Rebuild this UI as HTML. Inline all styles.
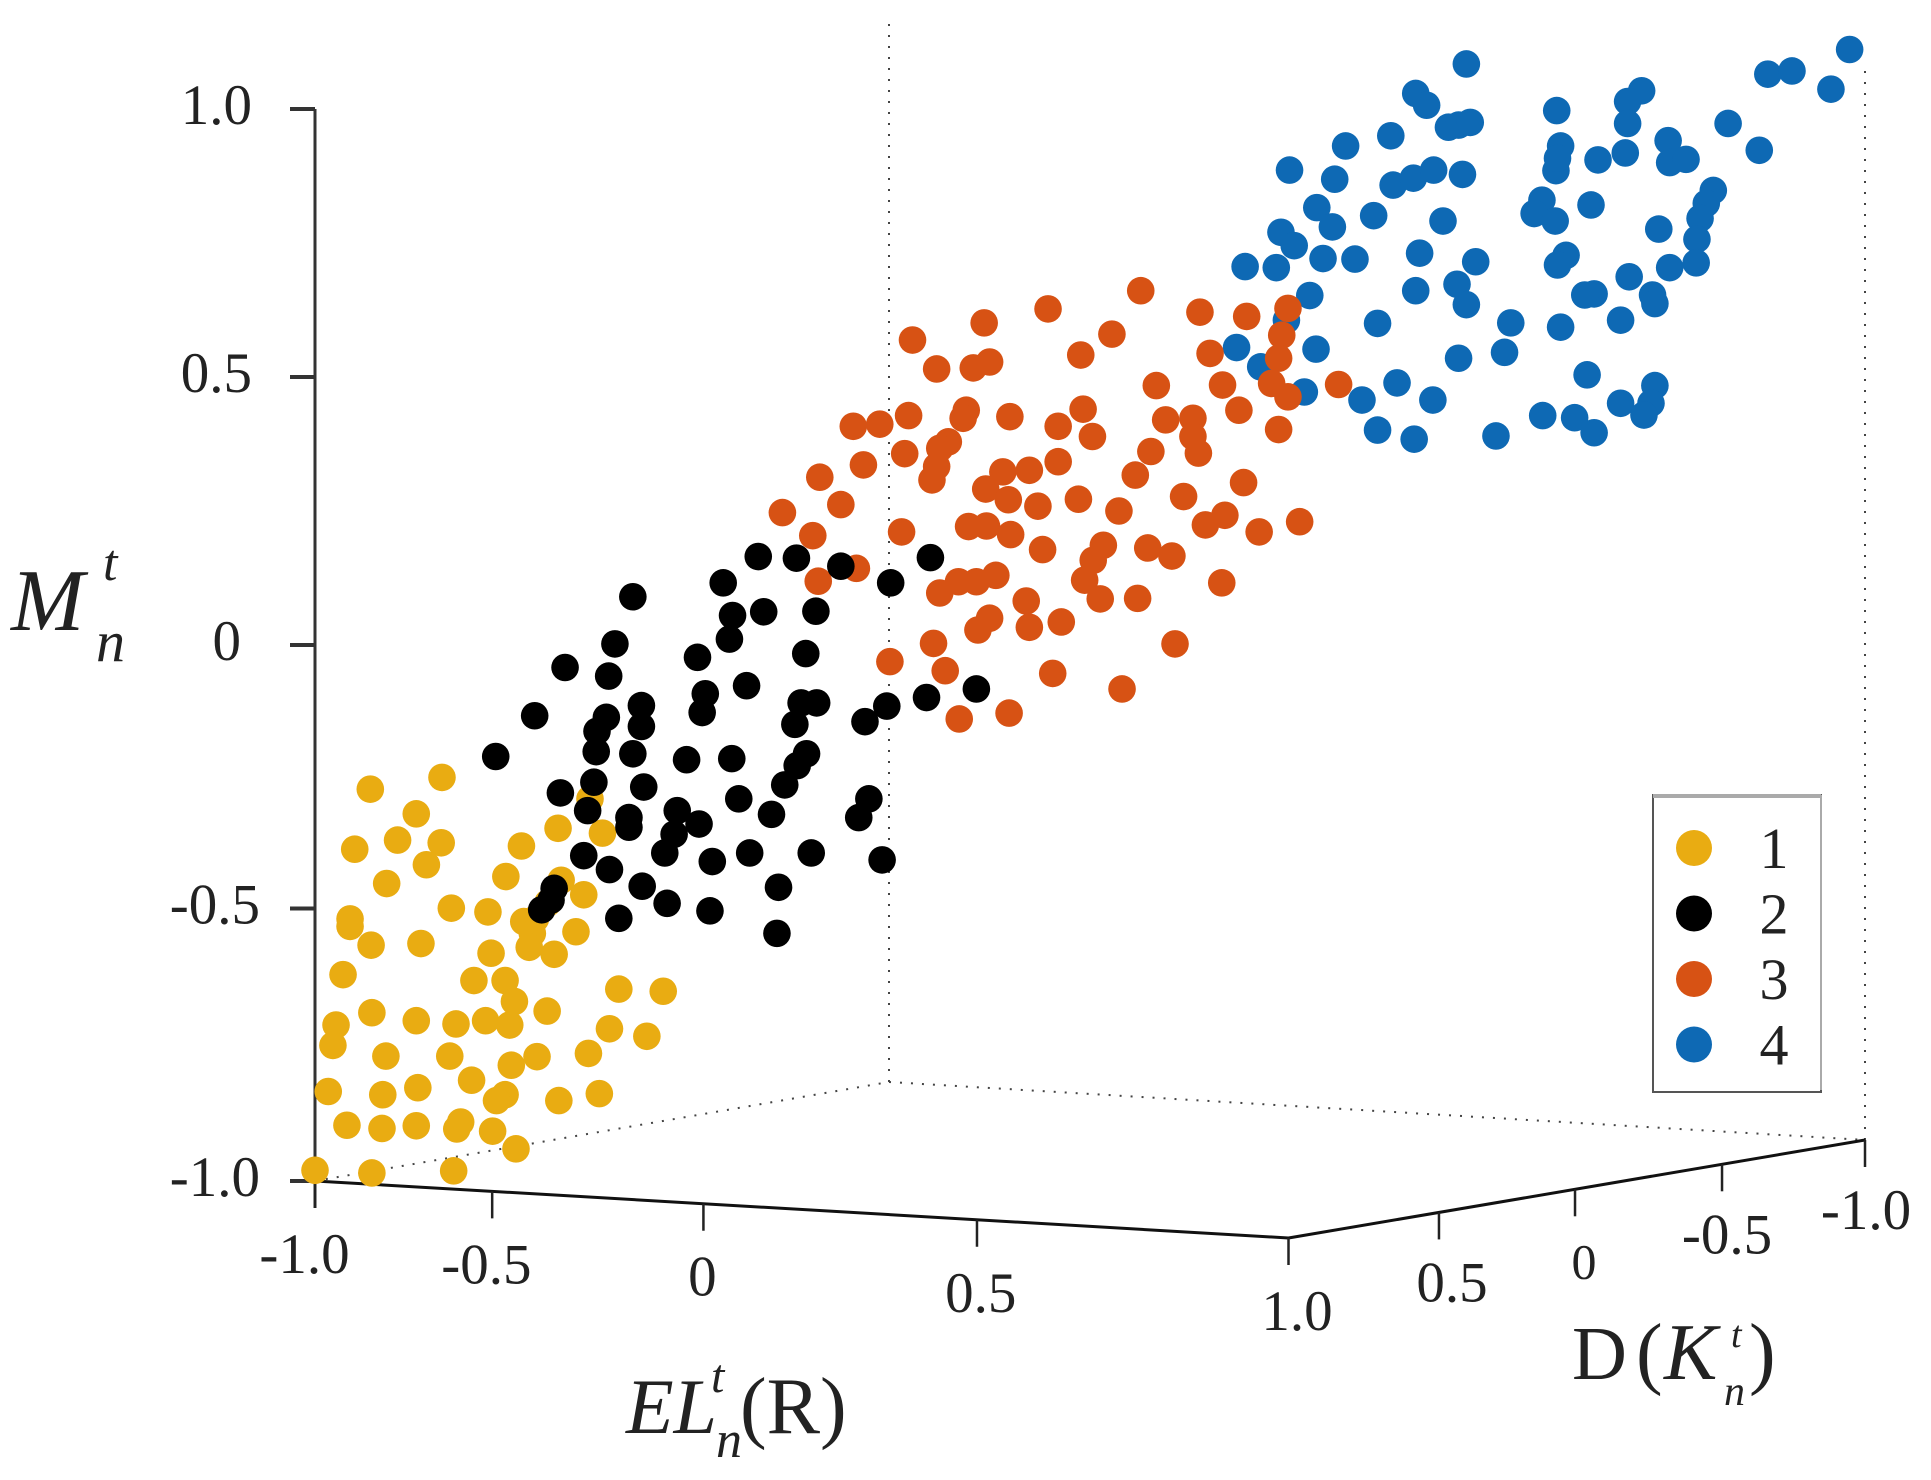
<!DOCTYPE html>
<html lang="en">
<head>
<meta charset="utf-8">
<title>3D cluster scatter plot</title>
<style>
html,body{margin:0;padding:0;background:#fff;}
svg{display:block;}
text{font-family:"Liberation Serif",serif;fill:#222;}
</style>
</head>
<body>
<svg id="chart" xmlns="http://www.w3.org/2000/svg" width="1931" height="1480" viewBox="0 0 1931 1480">
  <rect x="0" y="0" width="1931" height="1480" fill="#fff"/>
  <g id="grid"></g>
  <g id="axes"></g>
  <g id="points"></g>
  <g>
    <text x="11" y="630" font-size="88" font-style="italic">M</text>
    <text x="103" y="580" font-size="52" font-style="italic">t</text>
    <text x="96" y="661" font-size="58" font-style="italic">n</text>
  </g>
  <g>
    <text x="626" y="1433" font-size="78" font-style="italic">EL</text>
    <text x="711" y="1392" font-size="48" font-style="italic">t</text>
    <text x="716" y="1457" font-size="52" font-style="italic">n</text>
    <text x="740" y="1433" font-size="80">(R)</text>
  </g>
  <g>
    <text x="1572" y="1379" font-size="76">D</text>
    <text x="1636" y="1379" font-size="80">(</text>
    <text x="1664" y="1379" font-size="80" font-style="italic">K</text>
    <text x="1731" y="1347" font-size="38" font-style="italic">t</text>
    <text x="1724" y="1405" font-size="42" font-style="italic">n</text>
    <text x="1749" y="1379" font-size="80">)</text>
  </g>
  <g id="legend">
    <rect x="1653" y="795" width="168" height="297" fill="#fff" stroke="#555" stroke-width="2"/>
    <line x1="1653" y1="796" x2="1821" y2="796" stroke="#aaa" stroke-width="4"/>
    <line x1="1821" y1="795" x2="1821" y2="1090" stroke="#aaa" stroke-width="2"/>
  </g>
</svg>
<script>
// Projected horizontal position (EL and D combined on the image plane) and M value per cluster.
var cluster1U = [-.929,-.837,-.870,-.949,-.894,-.838,-.857,-.908,-.735,-.688,-.631,-.755,-.684,-.655,-.825,-.778,-.955,-.955,-.732,-.717,-.721,-.725,-.928,-.864,-.774,-.693,-.665,-.964,-.796,-.756,-.744,-.610,-.553,-.927,-.870,-.819,-.781,-.750,-.702,-.973,-.977,-.622,-.574,-.909,-.827,-.715,-.748,-.649,-.799,-.983,-.913,-.868,-.756,-.767,-.687,-.635,-.959,-.914,-.870,-.813,-.818,-.772,-.742,-1.000,-.927,-.822,-.647,-.701];
var cluster1M = [-.269,-.247,-.315,-.381,-.364,-.369,-.410,-.445,-.375,-.342,-.351,-.432,-.439,-.466,-.491,-.498,-.511,-.525,-.516,-.511,-.538,-.564,-.560,-.557,-.575,-.577,-.535,-.615,-.626,-.626,-.665,-.642,-.646,-.686,-.701,-.707,-.701,-.709,-.683,-.709,-.747,-.716,-.730,-.767,-.767,-.768,-.784,-.762,-.812,-.833,-.839,-.826,-.839,-.850,-.850,-.837,-.896,-.902,-.897,-.890,-.903,-.907,-.940,-.980,-.985,-.981,-.287,-.481];

var cluster2U = [-.768,-.639,-.592,-.523,-.465,-.369,-.381,-.397,-.642,-.685,-.578,-.456,-.289,-.302,-.414,-.535,-.650,-.597,-.597,-.507,-.539,-.551,-.655,-.490,-.442,-.363,-.272,-.622,-.580,-.405,-.693,-.709,-.548,-.493,-.610,-.407,-.697,-.431,-.382,-.325,-.261,-.210,-.476,-.592,-.424,-.357,-.464,-.468,-.615,-.370,-.509,-.679,-.623,-.499,-.503,-.446,-.215,-.151,-.266,-.294,-.718,-.581,-.626,-.638,-.376,-.356,-.384,-.581];
var cluster2M = [-.208,-.199,-.203,-.214,-.212,-.203,-.225,-.261,-.256,-.276,-.265,-.287,-.287,-.322,-.316,-.309,-.309,-.322,-.340,-.334,-.353,-.388,-.393,-.404,-.388,-.388,-.401,-.419,-.450,-.452,-.454,-.494,-.482,-.496,-.510,-.538,-.476,.165,.162,.147,.116,.163,.116,.090,.062,.063,.055,.011,.002,-.016,-.023,-.042,-.058,-.091,-.126,-.076,-.098,-.082,-.114,-.143,-.132,-.113,-.135,-.161,-.108,-.108,-.148,-.152];

var cluster3U = [.060,-.059,.136,.196,-.141,-.233,.023,-.017,.149,-.202,-.155,-.134,.080,.165,.186,-.164,-.168,-.014,-.238,-.108,-.309,-.275,-.046,-.002,.092,.127,.127,.134,-.187,-.198,-.243,-.202,-.208,-.296,-.046,.073,-.117,-.083,.053,-.352,-.139,-.110,.192,-.072,-.020,.115,-.325,-.400,.032,.168,.143,.212,-.161,-.138,-.107,-.247,-.361,-.066,.012,-.001,.069,.100,-.305,-.354,-.126,-.151,-.174,-.198,.164,-.012,.008,.056,-.087,-.134,-.149,-.042,-.083,-.206,.104,-.262,-.191,-.053,.036,-.173,-.109,.249,.241,.237,.228,.249,.237,.314,.264];
var cluster3M = [.661,.627,.621,.613,.601,.569,.580,.541,.544,.515,.517,.528,.484,.485,.438,.438,.423,.440,.428,.426,.408,.412,.408,.389,.420,.423,.389,.358,.379,.367,.357,.333,.308,.336,.342,.361,.323,.326,.317,.313,.291,.271,.303,.259,.272,.277,.262,.247,.250,.242,.224,.211,.221,.222,.206,.211,.204,.178,.186,.158,.181,.166,.143,.119,.130,.118,.118,.097,.116,.121,.086,.087,.082,.050,.028,.043,.033,.003,.002,-.031,-.048,-.053,-.082,-.138,-.127,.628,.578,.535,.488,.463,.402,.486,.230];

var cluster4U = [.478,.413,.427,.455,.468,.483,.381,.323,.251,.309,.384,.410,.436,.473,.286,.306,.359,.448,.240,.257,.194,.234,.294,.335,.418,.490,.466,.478,.413,.277,.364,.183,.285,.247,.214,.468,.527,.535,.270,.389,.344,.435,.364,.411,.516,.970,.865,.896,.946,.594,.703,.685,.685,.814,.599,.647,.682,.737,.854,.739,.760,.593,.595,.795,.786,.778,.774,.773,.638,.575,.565,.592,.725,.606,.595,.739,.687,.642,.630,.717,.720,.676,.599,.633,.720,.676,.715,.706,.576,.617,.642];
var cluster4M = [1.084,1.029,1.007,.966,.970,.975,.950,.931,.886,.869,.858,.871,.886,.878,.816,.780,.801,.791,.770,.745,.706,.704,.721,.720,.731,.715,.673,.635,.661,.652,.600,.555,.552,.606,.519,.535,.546,.601,.472,.489,.457,.457,.401,.384,.390,1.111,1.065,1.071,1.037,.997,1.034,1.014,.973,.973,.931,.905,.918,.941,.923,.900,.906,.885,.908,.848,.824,.796,.757,.713,.821,.830,.805,.791,.776,.727,.709,.704,.687,.655,.653,.653,.637,.606,.593,.504,.484,.451,.451,.429,.428,.424,.396];

var clusterLabels = ['1','2','3','4'];
var clusterColors = ['#E9AC12','#000000','#D75214','#0E69B4'];
var mTickValues = [1,0.5,0,-0.5,-1];
var mTickLabels = ['1.0','0.5','0','-0.5','-1.0'];
var elTickValues = [-1,-0.5,0,0.5,1];
var elTickLabels = ['-1.0','-0.5','0','0.5','1.0'];
var dTickValues = [0.5,0,-0.5,-1];
var dTickLabels = ['0.5','0','-0.5','-1.0'];

// Axis functions
var corner = {A:[315,1181],B:[1288.5,1238],C:[1865,1140],D:[889,1082]};
function projectedX(u){return 1094+779*u;}
function mY(m){return 645-536*m;}
function mTickY(v){ // wall edge is slightly non-uniform in the lower half
  return v<0 ? mY(v)-4.5*(1-Math.abs(2*v+1)) : mY(v);
}
function foreshorten(stops,t){ // perspective foreshortening along a floor edge
  var n=stops.length-1, i=Math.min(n-1,Math.floor(t*n)), f=t*n-i;
  return stops[i]+f*(stops[i+1]-stops[i]);
}
function elAxis(v){
  var s=foreshorten([0,.182,.399,.68,1],(v+1)/2);
  return [corner.A[0]+s*(corner.B[0]-corner.A[0]),corner.A[1]+s*(corner.B[1]-corner.A[1])];
}
function dAxis(v){
  var s=foreshorten([0,.261,.497,.752,1],(1-v)/2);
  return [corner.B[0]+s*(corner.C[0]-corner.B[0]),corner.B[1]+s*(corner.C[1]-corner.B[1])];
}

var NS='http://www.w3.org/2000/svg';
function shape(parent,tag,props,txt){
  var e=document.createElementNS(NS,tag);
  for(var k in props){e.setAttribute(k,props[k]);}
  if(txt!==undefined){e.textContent=txt;}
  parent.appendChild(e);
  return e;
}
function axisLine(parent,x1,y1,x2,y2,w,color){
  return shape(parent,'line',{x1:x1,y1:y1,x2:x2,y2:y2,stroke:color,'stroke-width':w});
}

var grid=document.getElementById('grid');
var guides=[
  [corner.A,corner.D,'floor-guide-left'],
  [corner.D,corner.C,'floor-guide-back'],
  [corner.D,[corner.D[0],19],'wall-guide-back'],
  [corner.C,[corner.C[0],62],'wall-guide-right']
];
guides.forEach(function(g){
  var ln=shape(grid,'line',{x1:g[0][0],y1:g[0][1],x2:g[1][0],y2:g[1][1],stroke:'#444','stroke-width':2,'stroke-dasharray':'2 9'});
  
  
});

var axes=document.getElementById('axes');
var mAxis=axisLine(axes,315,mY(1),315,1208,3,'#333');


var elLine=axisLine(axes,corner.A[0],corner.A[1],corner.B[0],corner.B[1],3,'#111');


var dLine=axisLine(axes,corner.B[0],corner.B[1],corner.C[0],corner.C[1],3,'#111');



mTickValues.forEach(function(v,i){
  var y=mTickY(v);
  var t=axisLine(axes,290,y,315,y,4,'#333');
  
  
  var labelRight = v===0 ? 241 : (v<0 ? 260 : 252);
  var l=shape(axes,'text',{x:labelRight,y:y+15,'font-size':57,'text-anchor':'end'},mTickLabels[i]);
  
  
});
elTickValues.forEach(function(v,i){
  var p=elAxis(v);
  var t=axisLine(axes,p[0],p[1],p[0],p[1]+27,2.5,'#222');
  
  
  var l=shape(axes,'text',{x:p[0]+v*9.5-1,y:p[1]+92,'font-size':57,'text-anchor':'middle'},elTickLabels[i]);
  
  
});
dTickValues.forEach(function(v,i){
  var p=dAxis(v);
  var t=axisLine(axes,p[0],p[1],p[0],p[1]+27,2.5,'#222');
  
  
  var l=shape(axes,'text',{x:p[0]+8*v+9,y:p[1]+89,'font-size':v===0?50:57,'text-anchor':'middle'},dTickLabels[i]);
  
  
});

var pointsLayer=document.getElementById('points');
var drawOrder=[
  [cluster4U,cluster4M,3],
  [cluster3U,cluster3M,2],
  [cluster1U,cluster1M,0],
  [cluster2U,cluster2M,1]
];
drawOrder.forEach(function(s){
  var us=s[0], ms=s[1], idx=s[2];
  for(var i=0;i<us.length;i++){
    var c=shape(pointsLayer,'circle',{cx:projectedX(us[i]),cy:mY(ms[i]),r:13.8,fill:clusterColors[idx]});
    
    
  }
});

var legend=document.getElementById('legend');
clusterLabels.forEach(function(lbl,i){
  var y=848+65.5*i;
  var m=shape(legend,'ellipse',{cx:1694,cy:y,rx:18,ry:18,fill:clusterColors[i]});
  
  
  var t=shape(legend,'text',{x:1774,y:y+20,'font-size':58,'text-anchor':'middle'},lbl);
  
  
});
</script>
</body>
</html>
